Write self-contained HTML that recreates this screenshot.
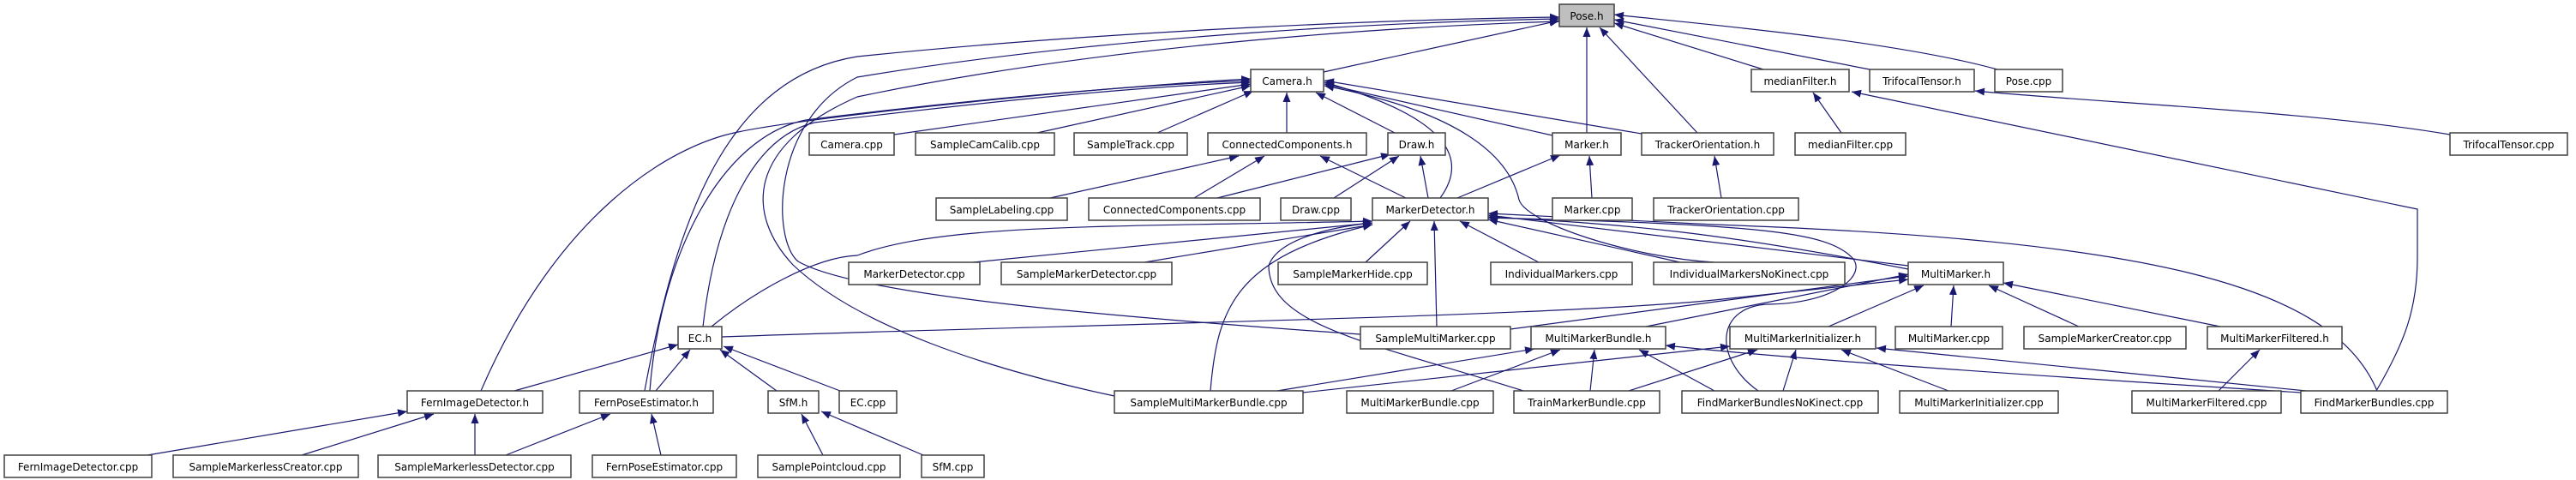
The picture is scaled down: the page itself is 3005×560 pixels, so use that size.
<!DOCTYPE html>
<html><head><meta charset="utf-8"><style>
html,body{margin:0;padding:0;background:#fff;}
svg{display:block;}
text{font-family:"DejaVu Sans","Liberation Sans",sans-serif;font-size:12px;fill:#000;}
.e{fill:none;stroke:#191970;stroke-width:1.2;marker-end:url(#a);}
.b{fill:#fff;stroke:#404040;stroke-width:1.5;}
</style></head><body>
<svg width="3005" height="560" viewBox="0 0 3005 560" xmlns="http://www.w3.org/2000/svg">
<defs><marker id="a" markerUnits="userSpaceOnUse" markerWidth="11" markerHeight="9" refX="11" refY="4.5" orient="auto"><path d="M0,0 L11,4.5 L0,9 z" fill="#191970"/></marker></defs>
<g>
<!-- Pose.h -->
<path class="e" d="M1544,84 L1819,24"/>
<path class="e" d="M1851,155 L1851,32"/>
<path class="e" d="M1980,155 L1866,32"/>
<path class="e" d="M2057,81 L1883,27"/>
<path class="e" d="M2181,81 L1883,23"/>
<path class="e" d="M2330,81 C2200,45 1950,25 1883,17"/>
<path class="e" d="M752,456 C790,250 850,90 1000,66 C1300,35 1650,22 1819,20"/>
<path class="e" d="M1587,390 C1300,370 1000,345 931,305 C900,280 900,140 1000,90 C1300,40 1650,25 1819,22"/>
<path class="e" d="M1300,462 C1150,430 1000,380 925,309 C870,250 870,170 1000,113 C1300,50 1650,30 1819,25"/>
<!-- Camera.h -->
<path class="e" d="M561,456 C650,250 780,170 861,154 C950,135 1300,100 1459,92"/>
<path class="e" d="M758,456 C770,300 840,160 940,140 C1100,120 1300,100 1459,94"/>
<path class="e" d="M820,381 C835,250 880,160 950,143 C1100,125 1300,102 1459,96"/>
<path class="e" d="M1043,157 L1459,98"/>
<path class="e" d="M1210,155 L1459,100"/>
<path class="e" d="M1350,155 L1462,106"/>
<path class="e" d="M1501,155 L1501,108"/>
<path class="e" d="M1627,155 L1535,108"/>
<path class="e" d="M1680,231 C1710,190 1700,140 1545,96"/>
<path class="e" d="M1811,158 L1545,98"/>
<path class="e" d="M1915,156 L1545,94"/>
<path class="e" d="M2000,306 C1900,300 1780,260 1772,233 C1760,180 1700,130 1545,100"/>
<!-- ConnectedComponents.h / Draw.h / Marker.h -->
<path class="e" d="M1225,231 L1445,182"/>
<path class="e" d="M1393,231 L1475,182"/>
<path class="e" d="M1640,231 L1540,182"/>
<path class="e" d="M1420,231 L1622,180"/>
<path class="e" d="M1556,231 L1632,182"/>
<path class="e" d="M1666,231 L1657,182"/>
<path class="e" d="M1700,231 L1820,181"/>
<path class="e" d="M1857,231 L1854,182"/>
<path class="e" d="M2008,231 L2000,182"/>
<path class="e" d="M2148,155 L2115,108"/>
<path class="e" d="M2772,456 C2805,400 2820,360 2820,300 L2820,244 L2160,107"/>
<path class="e" d="M2858,157 C2700,130 2450,120 2304,106"/>
<!-- MarkerDetector.h -->
<path class="e" d="M1135,306 L1601,260"/>
<path class="e" d="M830,381 C880,340 950,300 1000,298 C1100,260 1300,265 1601,258"/>
<path class="e" d="M1335,306 L1601,262"/>
<path class="e" d="M1593,306 L1645,258"/>
<path class="e" d="M1676,381 L1673,258"/>
<path class="e" d="M1795,306 L1703,258"/>
<path class="e" d="M1960,306 L1736,256"/>
<path class="e" d="M2226,310 L1736,251"/>
<path class="e" d="M2226,314 C2000,270 1900,262 1736,253"/>
<path class="e" d="M2773,456 C2720,330 2500,280 2000,262 L1736,249"/>
<path class="e" d="M1412,456 C1420,360 1440,300 1601,262"/>
<path class="e" d="M1777,456 C1600,400 1480,380 1480,310 C1490,280 1550,265 1601,260"/>
<path class="e" d="M2051,456 C2000,420 2000,360 2060,355 C2140,355 2180,320 2160,300 C2130,270 2050,262 1736,254"/>
<!-- MultiMarker.h -->
<path class="e" d="M842,393 C1200,380 1800,370 2000,350 L2226,326"/>
<path class="e" d="M1762,384 C1950,360 2100,340 2226,322"/>
<path class="e" d="M1920,381 L2226,320"/>
<path class="e" d="M2133,381 L2244,333"/>
<path class="e" d="M2276,381 L2279,333"/>
<path class="e" d="M2425,381 L2320,333"/>
<path class="e" d="M2590,381 L2337,330"/>
<!-- MultiMarkerBundle.h / Initializer / Filtered -->
<path class="e" d="M1490,456 L1790,407"/>
<path class="e" d="M1693,456 L1820,408"/>
<path class="e" d="M1855,456 L1860,408"/>
<path class="e" d="M2000,456 L1912,408"/>
<path class="e" d="M2684,458 C2400,440 2100,420 1943,403"/>
<path class="e" d="M1900,456 L2050,408"/>
<path class="e" d="M2080,456 L2095,408"/>
<path class="e" d="M2273,456 L2148,408"/>
<path class="e" d="M2690,456 L2189,406"/>
<path class="e" d="M1520,458 L2018,404"/>
<path class="e" d="M2588,456 L2636,408"/>
<!-- EC.h / SfM.h / Fern -->
<path class="e" d="M600,456 L791,402"/>
<path class="e" d="M765,456 L805,408"/>
<path class="e" d="M906,456 L840,408"/>
<path class="e" d="M980,456 L844,404"/>
<path class="e" d="M960,531 L935,483"/>
<path class="e" d="M1077,531 L958,480"/>
<path class="e" d="M172,531 L475,480"/>
<path class="e" d="M352,531 L506,483"/>
<path class="e" d="M554,531 L554,483"/>
<path class="e" d="M590,531 L712,483"/>
<path class="e" d="M771,531 L760,483"/>
</g>
<g>
<rect x="1819" y="5" width="64" height="26" fill="#bfbfbf" stroke="#404040" stroke-width="1.5"/><text x="1851" y="23" text-anchor="middle">Pose.h</text>
<rect class="b" x="1459" y="81" width="85" height="26"/><text x="1501.5" y="99" text-anchor="middle">Camera.h</text>
<rect class="b" x="2043" y="81" width="114" height="26"/><text x="2100" y="99" text-anchor="middle">medianFilter.h</text>
<rect class="b" x="2181" y="81" width="122" height="26"/><text x="2242" y="99" text-anchor="middle">TrifocalTensor.h</text>
<rect class="b" x="2327" y="81" width="79" height="26"/><text x="2366.5" y="99" text-anchor="middle">Pose.cpp</text>
<rect class="b" x="944" y="155" width="99" height="26"/><text x="993.5" y="173" text-anchor="middle">Camera.cpp</text>
<rect class="b" x="1068" y="155" width="162" height="26"/><text x="1149" y="173" text-anchor="middle">SampleCamCalib.cpp</text>
<rect class="b" x="1253" y="155" width="132" height="26"/><text x="1319" y="173" text-anchor="middle">SampleTrack.cpp</text>
<rect class="b" x="1409" y="155" width="185" height="26"/><text x="1501.5" y="173" text-anchor="middle">ConnectedComponents.h</text>
<rect class="b" x="1619" y="155" width="67" height="26"/><text x="1652.5" y="173" text-anchor="middle">Draw.h</text>
<rect class="b" x="1811" y="155" width="80" height="26"/><text x="1851" y="173" text-anchor="middle">Marker.h</text>
<rect class="b" x="1915" y="155" width="154" height="26"/><text x="1992" y="173" text-anchor="middle">TrackerOrientation.h</text>
<rect class="b" x="2094" y="155" width="129" height="26"/><text x="2158.5" y="173" text-anchor="middle">medianFilter.cpp</text>
<rect class="b" x="2858" y="155" width="137" height="26"/><text x="2926.5" y="173" text-anchor="middle">TrifocalTensor.cpp</text>
<rect class="b" x="1092" y="231" width="153" height="26"/><text x="1168.5" y="249" text-anchor="middle">SampleLabeling.cpp</text>
<rect class="b" x="1270" y="231" width="200" height="26"/><text x="1370" y="249" text-anchor="middle">ConnectedComponents.cpp</text>
<rect class="b" x="1494" y="231" width="82" height="26"/><text x="1535" y="249" text-anchor="middle">Draw.cpp</text>
<rect class="b" x="1601" y="231" width="135" height="26"/><text x="1668.5" y="249" text-anchor="middle">MarkerDetector.h</text>
<rect class="b" x="1811" y="231" width="93" height="26"/><text x="1857.5" y="249" text-anchor="middle">Marker.cpp</text>
<rect class="b" x="1929" y="231" width="169" height="26"/><text x="2013.5" y="249" text-anchor="middle">TrackerOrientation.cpp</text>
<rect class="b" x="990" y="306" width="153" height="26"/><text x="1066.5" y="324" text-anchor="middle">MarkerDetector.cpp</text>
<rect class="b" x="1168" y="306" width="199" height="26"/><text x="1267.5" y="324" text-anchor="middle">SampleMarkerDetector.cpp</text>
<rect class="b" x="1491" y="306" width="174" height="26"/><text x="1578" y="324" text-anchor="middle">SampleMarkerHide.cpp</text>
<rect class="b" x="1739" y="306" width="165" height="26"/><text x="1821.5" y="324" text-anchor="middle">IndividualMarkers.cpp</text>
<rect class="b" x="1929" y="306" width="223" height="26"/><text x="2040.5" y="324" text-anchor="middle">IndividualMarkersNoKinect.cpp</text>
<rect class="b" x="2226" y="306" width="111" height="26"/><text x="2281.5" y="324" text-anchor="middle">MultiMarker.h</text>
<rect class="b" x="791" y="381" width="51" height="26"/><text x="816.5" y="399" text-anchor="middle">EC.h</text>
<rect class="b" x="1587" y="381" width="175" height="26"/><text x="1674.5" y="399" text-anchor="middle">SampleMultiMarker.cpp</text>
<rect class="b" x="1786" y="381" width="157" height="26"/><text x="1864.5" y="399" text-anchor="middle">MultiMarkerBundle.h</text>
<rect class="b" x="2018" y="381" width="170" height="26"/><text x="2103" y="399" text-anchor="middle">MultiMarkerInitializer.h</text>
<rect class="b" x="2211" y="381" width="125" height="26"/><text x="2273.5" y="399" text-anchor="middle">MultiMarker.cpp</text>
<rect class="b" x="2361" y="381" width="189" height="26"/><text x="2455.5" y="399" text-anchor="middle">SampleMarkerCreator.cpp</text>
<rect class="b" x="2575" y="381" width="157" height="26"/><text x="2653.5" y="399" text-anchor="middle">MultiMarkerFiltered.h</text>
<rect class="b" x="475" y="456" width="158" height="26"/><text x="554" y="474" text-anchor="middle">FernImageDetector.h</text>
<rect class="b" x="676" y="456" width="156" height="26"/><text x="754" y="474" text-anchor="middle">FernPoseEstimator.h</text>
<rect class="b" x="896" y="456" width="59" height="26"/><text x="925.5" y="474" text-anchor="middle">SfM.h</text>
<rect class="b" x="979" y="456" width="67" height="26"/><text x="1012.5" y="474" text-anchor="middle">EC.cpp</text>
<rect class="b" x="1300" y="456" width="220" height="26"/><text x="1410" y="474" text-anchor="middle">SampleMultiMarkerBundle.cpp</text>
<rect class="b" x="1571" y="456" width="171" height="26"/><text x="1656.5" y="474" text-anchor="middle">MultiMarkerBundle.cpp</text>
<rect class="b" x="1766" y="456" width="170" height="26"/><text x="1851" y="474" text-anchor="middle">TrainMarkerBundle.cpp</text>
<rect class="b" x="1962" y="456" width="229" height="26"/><text x="2076.5" y="474" text-anchor="middle">FindMarkerBundlesNoKinect.cpp</text>
<rect class="b" x="2216" y="456" width="185" height="26"/><text x="2308.5" y="474" text-anchor="middle">MultiMarkerInitializer.cpp</text>
<rect class="b" x="2487" y="456" width="174" height="26"/><text x="2574" y="474" text-anchor="middle">MultiMarkerFiltered.cpp</text>
<rect class="b" x="2684" y="456" width="171" height="26"/><text x="2769.5" y="474" text-anchor="middle">FindMarkerBundles.cpp</text>
<rect class="b" x="5" y="531" width="172" height="26"/><text x="91" y="549" text-anchor="middle">FernImageDetector.cpp</text>
<rect class="b" x="202" y="531" width="216" height="26"/><text x="310" y="549" text-anchor="middle">SampleMarkerlessCreator.cpp</text>
<rect class="b" x="441" y="531" width="225" height="26"/><text x="553.5" y="549" text-anchor="middle">SampleMarkerlessDetector.cpp</text>
<rect class="b" x="691" y="531" width="168" height="26"/><text x="775" y="549" text-anchor="middle">FernPoseEstimator.cpp</text>
<rect class="b" x="884" y="531" width="166" height="26"/><text x="967" y="549" text-anchor="middle">SamplePointcloud.cpp</text>
<rect class="b" x="1075" y="531" width="73" height="26"/><text x="1111.5" y="549" text-anchor="middle">SfM.cpp</text>
</g>
</svg>
</body></html>
